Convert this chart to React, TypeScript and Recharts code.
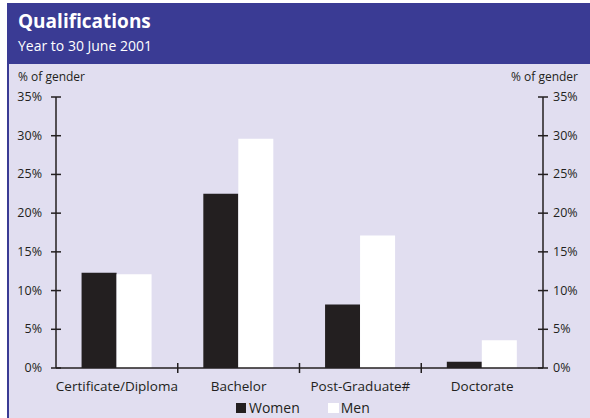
import { Bar, BarChart, ReferenceLine, XAxis, YAxis } from "recharts";

const categories = ["Certificate/Diploma", "Bachelor", "Post-Graduate#", "Doctorate"];
const women = [12.3, 22.5, 8.2, 0.8];
const men = [12.1, 29.6, 17.1, 3.6];
const yTicks = [0, 5, 10, 15, 20, 25, 30, 35];

const data = categories.map((name, i) => ({ name, women: women[i], men: men[i] }));

const INK = "#231f20";
const BLUE = "#3a3b94";
const PANEL = "#e1def0";
const FONT = "'Open Sans', 'DejaVu Sans', sans-serif";

const TICK_SIZE = 5;
const LEFT_MARGIN = 9;
const RIGHT_MARGIN = 5;

function YTick(props: any) {
  const { x, y, payload, side } = props;
  const left = side === "left";
  const axisX = left ? x + TICK_SIZE + LEFT_MARGIN : x - TICK_SIZE - RIGHT_MARGIN;
  return (
    <g>
      <line x1={axisX - 5} x2={axisX + 5} y1={y} y2={y} stroke={INK} strokeWidth={1.5} />
      <text
        x={x}
        y={y}
        dy={4}
        textAnchor={left ? "end" : "start"}
        fill={INK}
        fontSize={12.5}
        fontFamily={FONT}
      >
        {payload.value}%
      </text>
    </g>
  );
}

export default function App() {
  return (
    <div
      style={{
        position: "absolute",
        left: 0,
        top: 0,
        width: 590,
        height: 418,
        background: "#ffffff",
        overflow: "hidden",
        fontFamily: FONT
      }}
    >
      <div
        style={{
          position: "absolute",
          left: 7,
          top: 3,
          width: 583,
          height: 415,
          background: PANEL,
          borderLeft: `2px solid ${BLUE}`,
          boxSizing: "border-box"
        }}
      />
      <div
        style={{
          position: "absolute",
          left: 7,
          top: 3,
          width: 583,
          height: 61,
          background: BLUE,
          color: "#ffffff"
        }}
      >
        <div style={{ position: "absolute", left: 11, top: 5, fontSize: 19, fontWeight: 700 }}>
          Qualifications
        </div>
        <div style={{ position: "absolute", left: 11, top: 33, fontSize: 14 }}>
          Year to 30 June 2001
        </div>
      </div>
      <div style={{ position: "absolute", left: 18, top: 68, fontSize: 12, color: INK }}>% of gender</div>
      <div style={{ position: "absolute", right: 12, top: 68, fontSize: 12, color: INK }}>% of gender</div>

      <div style={{ position: "absolute", left: 0, top: 64 }}>
        <BarChart
          width={590}
          height={354}
          data={data}
          margin={{ top: 33, right: 7, bottom: 28, left: 8 }}
          barCategoryGap="21%"
          barGap={0}
        >
          <XAxis
            dataKey="name"
            height={22}
            axisLine={{ stroke: INK, strokeWidth: 1.5 }}
            tickLine={false}
            tickMargin={7}
            tick={{ fill: INK, fontSize: 13.5, fontFamily: FONT }}
            interval={0}
          />
          <YAxis
            yAxisId="left"
            orientation="left"
            width={48}
            domain={[0, 35]}
            ticks={yTicks}
            axisLine={{ stroke: INK, strokeWidth: 1.5 }}
            tickLine={false}
            tickSize={TICK_SIZE}
            tickMargin={LEFT_MARGIN}
            tick={<YTick side="left" />}
          />
          <YAxis
            yAxisId="right"
            orientation="right"
            width={40}
            domain={[0, 35]}
            ticks={yTicks}
            axisLine={{ stroke: INK, strokeWidth: 1.5 }}
            tickLine={false}
            tickSize={TICK_SIZE}
            tickMargin={RIGHT_MARGIN}
            tick={<YTick side="right" />}
          />
          <Bar yAxisId="left" dataKey="women" fill={INK} isAnimationActive={false} />
          <Bar yAxisId="right" dataKey="men" fill="#ffffff" isAnimationActive={false} />
          {categories.slice(1).map((c) => (
            <ReferenceLine
              key={c}
              yAxisId="left"
              position="start"
              ifOverflow="visible"
              segment={[
                { x: c, y: -0.65 },
                { x: c, y: 0.65 }
              ]}
              stroke={INK}
              strokeWidth={1.5}
            />
          ))}
        </BarChart>
      </div>

      <div
        style={{
          position: "absolute",
          left: 236,
          top: 398,
          display: "flex",
          alignItems: "center",
          fontSize: 14,
          color: INK
        }}
      >
        <span style={{ width: 10, height: 10, background: INK, marginRight: 3 }} />
        <span style={{ marginRight: 28 }}>Women</span>
        <span style={{ width: 11, height: 10, background: "#ffffff", marginRight: 2 }} />
        <span>Men</span>
      </div>
    </div>
  );
}
